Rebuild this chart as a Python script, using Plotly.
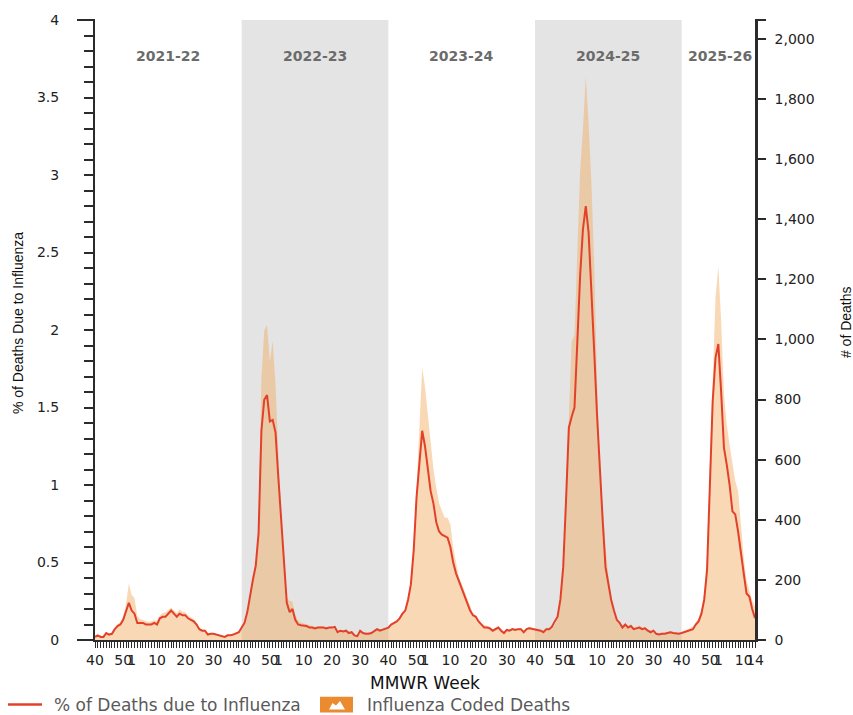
import plotly.graph_objects as go

# ---------------- data ----------------
seasons = ["2021-22", "2022-23", "2023-24", "2024-25", "2025-26"]
season_start_idx = [0, 52, 104, 156, 208]
season_end_idx = [51, 103, 155, 207, 234]
shaded_seasons = ["2022-23", "2024-25"]

# % of deaths due to influenza, weekly from MMWR week 40 2021 to week 14 2026
pct_2021_22 = [0.02, 0.03, 0.02, 0.02, 0.045, 0.035, 0.04, 0.07, 0.09, 0.1,
               0.13, 0.18, 0.24, 0.19, 0.17, 0.11, 0.11, 0.11, 0.1, 0.1,
               0.1, 0.11, 0.1, 0.14, 0.15, 0.15, 0.17, 0.19, 0.17, 0.15,
               0.17, 0.16, 0.16, 0.14, 0.13, 0.12, 0.1, 0.07, 0.06, 0.06,
               0.035, 0.04, 0.04, 0.035, 0.03, 0.025, 0.02, 0.03, 0.03, 0.035,
               0.045, 0.05]
pct_2022_23 = [0.08, 0.11, 0.18, 0.3, 0.39, 0.48, 0.69, 1.35, 1.55, 1.58,
               1.41, 1.42, 1.34, 1.05, 0.78, 0.45, 0.24, 0.18, 0.2, 0.13,
               0.1, 0.095, 0.09, 0.09, 0.08, 0.08, 0.075, 0.08, 0.08, 0.08,
               0.075, 0.08, 0.08, 0.085, 0.05, 0.06, 0.055, 0.06, 0.045, 0.05,
               0.03, 0.025, 0.06, 0.045, 0.04, 0.04, 0.045, 0.06, 0.07, 0.06,
               0.065, 0.07]
pct_2023_24 = [0.08, 0.1, 0.11, 0.12, 0.14, 0.17, 0.19, 0.26, 0.36, 0.58,
               0.92, 1.15, 1.35, 1.25, 1.09, 0.96, 0.88, 0.76, 0.7, 0.68,
               0.67, 0.66, 0.6, 0.5, 0.43, 0.38, 0.34, 0.29, 0.23, 0.19,
               0.16, 0.15, 0.12, 0.1, 0.08, 0.08, 0.075, 0.06, 0.07, 0.08,
               0.06, 0.045, 0.065, 0.06, 0.07, 0.065, 0.07, 0.07, 0.05, 0.07,
               0.075, 0.07]
pct_2024_25 = [0.065, 0.065, 0.06, 0.05, 0.07, 0.07, 0.085, 0.12, 0.15, 0.26,
               0.47, 0.9, 1.37, 1.44, 1.5, 1.92, 2.35, 2.65, 2.8, 2.63,
               2.29, 1.86, 1.45, 1.07, 0.77, 0.47, 0.35, 0.26, 0.19, 0.13,
               0.11, 0.08, 0.1, 0.08, 0.09, 0.07, 0.075, 0.08, 0.07, 0.075,
               0.06, 0.05, 0.06, 0.04, 0.035, 0.04, 0.04, 0.045, 0.05, 0.045,
               0.04, 0.04]
pct_2025_26 = [0.045, 0.05, 0.06, 0.065, 0.07, 0.1, 0.12, 0.17, 0.26, 0.45,
               0.96, 1.54, 1.82, 1.91, 1.6, 1.24, 1.13, 1.0, 0.83, 0.81,
               0.7, 0.58, 0.43, 0.3, 0.28, 0.2, 0.14]

# Influenza coded deaths
deaths_2021_22 = [10, 14, 10, 12, 22, 18, 22, 40, 52, 60,
                  80, 120, 188, 150, 140, 80, 70, 66, 62, 60,
                  62, 66, 64, 82, 90, 92, 100, 108, 98, 90,
                  102, 95, 92, 82, 76, 70, 58, 40, 35, 34,
                  22, 24, 24, 20, 18, 15, 12, 18, 18, 20,
                  26, 30]
deaths_2022_23 = [40, 55, 95, 160, 215, 260, 374, 870, 1030, 1048,
                  925, 995, 850, 628, 407, 254, 142, 130, 128, 85,
                  65, 58, 55, 52, 48, 46, 44, 45, 46, 44,
                  42, 44, 45, 46, 30, 34, 32, 34, 26, 28,
                  18, 15, 32, 26, 24, 24, 26, 34, 40, 36,
                  38, 40]
deaths_2023_24 = [40, 50, 55, 62, 72, 85, 100, 138, 188, 300,
                  496, 660, 906, 843, 750, 656, 568, 507, 455, 430,
                  407, 407, 385, 308, 254, 210, 188, 165, 140, 113,
                  89, 80, 65, 55, 50, 48, 45, 36, 42, 46,
                  36, 28, 38, 35, 40, 38, 40, 40, 30, 40,
                  44, 40]
deaths_2024_25 = [38, 38, 36, 30, 40, 40, 35, 50, 70, 120,
                  240, 496, 750, 992, 1015, 1266, 1560, 1700, 1874, 1720,
                  1520, 1246, 860, 584, 440, 308, 220, 143, 99, 66,
                  58, 48, 55, 48, 52, 42, 45, 48, 42, 45,
                  36, 30, 36, 24, 20, 24, 24, 26, 30, 26,
                  24, 24]
deaths_2025_26 = [26, 30, 35, 40, 45, 58, 72, 100, 160, 290,
                  560, 880, 1140, 1243, 1060, 816, 717, 650, 595, 529,
                  496, 386, 276, 198, 165, 132, 110]

# MMWR week tick labels (index of week in the series, label)
tick_idx = [0, 10, 13, 22, 32, 42,
            52, 62, 65, 74, 84, 94,
            104, 114, 117, 126, 136, 146,
            156, 166, 169, 178, 188, 198,
            208, 218, 221, 230, 234]
tick_txt = ["40", "50", "1", "10", "20", "30",
            "40", "50", "1", "10", "20", "30",
            "40", "50", "1", "10", "20", "30",
            "40", "50", "1", "10", "20", "30",
            "40", "50", "1", "10", "14"]

pct_ticks = [0, 0.5, 1, 1.5, 2, 2.5, 3, 3.5, 4]
deaths_ticks = [0, 200, 400, 600, 800, 1000, 1200, 1400, 1600, 1800, 2000]

pct = pct_2021_22 + pct_2022_23 + pct_2023_24 + pct_2024_25 + pct_2025_26
deaths = deaths_2021_22 + deaths_2022_23 + deaths_2023_24 + deaths_2024_25 + deaths_2025_26
idx = list(range(len(pct)))

# ---------------- style ----------------
RED = "#e3402a"
FILL = "rgba(242,168,92,0.45)"
SHADE = "#e4e4e4"
AXIS = "#2b2b2b"
TICKFONT = dict(family="DejaVu Sans", size=14, color="#222222")

# plot area in pixels
L, R, T, B = 95, 755, 16, 640
W, H = 853, 715


def px(x):
    return (x - L) / (R - L)


def py(y):
    return (B - y) / (B - T)


fig = go.Figure()
fig.add_trace(go.Scatter(
    x=idx, y=deaths, yaxis="y", mode="lines", fill="tozeroy",
    line=dict(width=0, color=FILL), fillcolor=FILL,
    name="Influenza Coded Deaths", showlegend=False, hoverinfo="skip"))
fig.add_trace(go.Scatter(
    x=idx, y=pct, yaxis="y2", mode="lines",
    line=dict(width=2, color=RED),
    name="% of Deaths due to Influenza", showlegend=False))

shapes = []
for s, a, b in zip(seasons, season_start_idx, season_end_idx):
    if s in shaded_seasons:
        shapes.append(dict(type="rect", xref="x", yref="paper", x0=a, x1=b + 1,
                           y0=0, y1=1, fillcolor=SHADE, line=dict(width=0), layer="below"))
# axis caps
shapes.append(dict(type="line", xref="paper", yref="paper", x0=px(77), x1=0, y0=1, y1=1,
                   line=dict(color=AXIS, width=2)))
shapes.append(dict(type="line", xref="paper", yref="paper", x0=px(77), x1=0, y0=0, y1=0,
                   line=dict(color=AXIS, width=2)))
shapes.append(dict(type="line", xref="paper", yref="paper", x0=1, x1=px(766), y0=1, y1=1,
                   line=dict(color=AXIS, width=2)))
# legend glyphs
shapes.append(dict(type="line", xref="paper", yref="paper", x0=px(8), x1=px(42), y0=py(705), y1=py(705),
                   line=dict(color=RED, width=2.5)))
shapes.append(dict(type="rect", xref="paper", yref="paper", x0=px(320), x1=px(353), y0=py(713), y1=py(697),
                   fillcolor="#ec8a30", line=dict(width=0)))
mpts = [(329, 710), (332.5, 703.5), (336, 706), (340, 701.5), (345, 710)]
path = "M " + " L ".join(f"{px(a):.5f},{py(b):.5f}" for a, b in mpts) + " Z"
shapes.append(dict(type="path", xref="paper", yref="paper", path=path,
                   fillcolor="white", line=dict(width=0)))

annotations = []
for s, a, b in zip(seasons, season_start_idx, season_end_idx):
    annotations.append(dict(x=(a + b + 1) / 2, y=py(52), xref="x", yref="paper",
                            xanchor="center", yanchor="middle",
                            text=f"<b>{s}</b>", showarrow=False,
                            font=dict(family="DejaVu Sans", size=14, color="#6b6b6b")))
annotations += [
    dict(x=px(18), y=py(321), xref="paper", yref="paper", text="% of Deaths Due to Influenza",
         xanchor="center", yanchor="middle",
         textangle=-90, showarrow=False, font=dict(family="Liberation Sans", size=14, color="#111")),
    dict(x=px(846), y=py(320), xref="paper", yref="paper", text="# of Deaths",
         xanchor="center", yanchor="middle",
         textangle=-90, showarrow=False, font=dict(family="Liberation Sans", size=14, color="#111")),
    dict(x=px(425), y=py(683), xref="paper", yref="paper", text="MMWR Week",
         xanchor="center", yanchor="middle",
         showarrow=False, font=dict(family="DejaVu Sans", size=17, color="#111")),
    dict(x=px(52), y=py(705), xref="paper", yref="paper", text="% of Deaths due to Influenza",
         xanchor="left", yanchor="middle",
         showarrow=False, font=dict(family="DejaVu Sans", size=17, color="#5a5a5a")),
    dict(x=px(365), y=py(705), xref="paper", yref="paper", text="Influenza Coded Deaths",
         xanchor="left", yanchor="middle",
         showarrow=False, font=dict(family="DejaVu Sans", size=17, color="#5a5a5a")),
]

fig.update_layout(
    width=W, height=H,
    margin=dict(l=L, r=W - R, t=T, b=H - B, pad=0),
    paper_bgcolor="white", plot_bgcolor="white",
    showlegend=False,
    xaxis=dict(range=[0, len(idx) - 1], tickmode="array", tickvals=tick_idx, ticktext=tick_txt,
               tickangle=0, ticks="outside", ticklen=6, tickwidth=1, tickcolor=AXIS,
               minor=dict(dtick=1, tick0=0, ticks="outside", ticklen=6, tickwidth=1, tickcolor=AXIS),
               showline=True, linecolor=AXIS, linewidth=1.5, showgrid=False, zeroline=False,
               tickfont=TICKFONT),
    yaxis=dict(range=[0, 2063], side="right", tickmode="array", tickvals=deaths_ticks,
               tickformat=",", ticks="outside", ticklen=8, tickwidth=1.5, tickcolor=AXIS,
               showline=True, linecolor=AXIS, linewidth=2.5, showgrid=False, zeroline=False,
               tickfont=TICKFONT, ticklabelstandoff=6),
    yaxis2=dict(range=[0, 4], side="left", overlaying="y", tickmode="array", tickvals=pct_ticks,
                ticks="outside", ticklen=9, tickwidth=1.5, tickcolor=AXIS,
                minor=dict(dtick=0.1, tick0=0, ticks="outside", ticklen=9, tickwidth=1.5, tickcolor=AXIS),
                showline=True, linecolor=AXIS, linewidth=2, showgrid=False, zeroline=False,
                tickfont=TICKFONT, ticklabelstandoff=22),
    shapes=shapes, annotations=annotations,
)

fig.write_html("out.html")
